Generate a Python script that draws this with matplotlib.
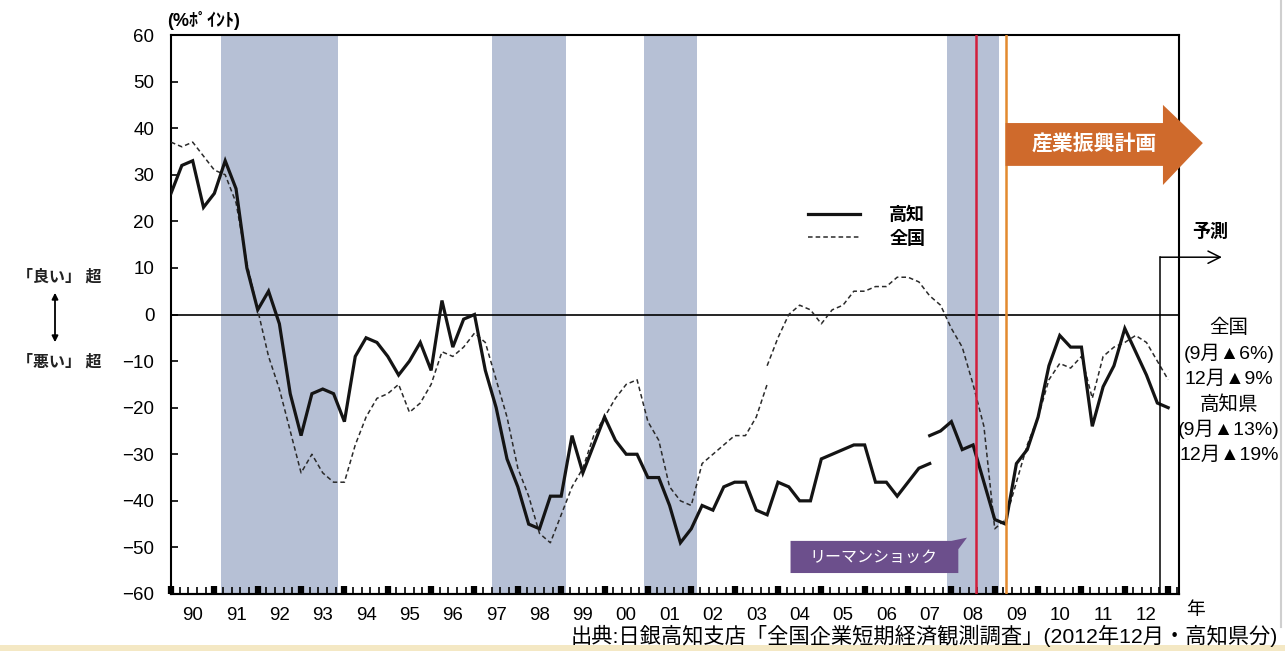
import numpy as np
import matplotlib
matplotlib.use("Agg")
import matplotlib.pyplot as plt
from matplotlib.patches import Polygon, Rectangle, FancyArrowPatch
from matplotlib.lines import Line2D

plt.rcParams['font.family'] = ['Liberation Sans', 'Noto Sans CJK JP']

# === DATA ===
# quarterly DI, 1990 Mar survey .. 2013 Mar (forecast)
START_YEAR = 1990
N_QUARTERS = 93

# Kochi, old basis (1990Q1 .. 2007Q3)
kochi_old = [26, 32, 33, 23, 26, 33, 27, 10,
             1, 5, -2, -17, -26, -17, -16, -17,
             -23, -9, -5, -6, -9, -13, -10, -6,
             -12, 3, -7, -1, 0, -12, -20, -31,
             -37, -45, -46, -39, -39, -26, -34, -28,
             -22, -27, -30, -30, -35, -35, -41, -49,
             -46, -41, -42, -37, -36, -36, -42, -43,
             -36, -37, -40, -40, -31, -30, -29, -28,
             -28, -36, -36, -39, -36, -33, -32]
# Kochi, new basis (2007Q3 .. 2013Q1 forecast)
kochi_new = [-26, -25, -23, -29, -28, -36, -44, -45, -32, -29, -22, -11,
             -4.5, -7, -7, -24, -15.5, -11, -3, -8, -13, -19, -20]

# Nationwide, old basis (1990Q1 .. 2003Q4)
zenkoku_old = [37, 36, 37, 34, 31, 30, 24, 11,
               1, -9, -16, -25, -34, -30, -34, -36,
               -36, -28, -22, -18, -17, -15, -21, -19,
               -15, -8, -9, -7, -4, -6, -14, -22,
               -33, -39, -47, -49, -43, -37, -33, -26,
               -22, -18, -15, -14, -23, -27, -37, -40,
               -41, -32, -30, -28, -26, -26, -22, -15]
# Nationwide, new basis (2003Q4 .. 2013Q1 forecast)
zenkoku_new = [-11, -5, 0, 2, 1, -2, 1, 2, 5, 5, 6, 6, 8, 8, 7, 4, 2, -3, -7,
               -15, -24, -46, -44, -36, -28, -22, -14, -10.5, -11.5, -9, -18,
               -9, -7, -6, -4.5, -6, -10, -14]

year_labels = ['90', '91', '92', '93', '94', '95', '96', '97', '98', '99',
               '00', '01', '02', '03', '04', '05', '06', '07', '08', '09',
               '10', '11', '12']

# recession periods (shaded)
recessions = [(1991.15, 1993.85), (1997.4, 1999.1),
              (2000.9, 2002.13), (2007.9, 2009.1)]
LEHMAN_X = 2008.57
PLAN_X = 2009.25
FORECAST_X = 2012.82

right_notes = ['全国', '(9月▲6%)', '12月▲9%', '高知県', '(9月▲13%)', '12月▲19%']

# === FIGURE ===
W, H = 1285, 651
fig = plt.figure(figsize=(W / 100, H / 100), dpi=100)
ax = fig.add_axes([171 / W, 1 - 594 / H, (1179 - 171) / W, (594 - 35) / H])

q = START_YEAR + np.arange(N_QUARTERS) * 0.25
n_old_k = len(kochi_old)
n_old_z = len(zenkoku_old)

for a, b in recessions:
    ax.axvspan(a, b, color='#b6c0d5', lw=0, zorder=0)

ax.axhline(0, color='black', lw=1.2, zorder=2)

l1, = ax.plot(q[:n_old_k], kochi_old, color='#141414', lw=2.3,
              solid_joinstyle='miter', zorder=4)
ax.plot(q[n_old_k - 1:], kochi_new, color='#141414', lw=2.3,
        solid_joinstyle='miter', zorder=4)
l2, = ax.plot(q[:n_old_z], zenkoku_old, color='#2a2a2a', lw=1.1,
              ls=(0, (3, 2)), zorder=3)
ax.plot(q[n_old_z - 1:], zenkoku_new, color='#2a2a2a', lw=1.1,
        ls=(0, (3, 2)), zorder=3)

ax.axvline(LEHMAN_X, color='#d21f3c', lw=1.8, zorder=5)
ax.axvline(PLAN_X, color='#e38a2f', lw=1.8, zorder=5)

ax.set_xlim(START_YEAR, 2013.25)
ax.set_ylim(-60, 60)

for s in ax.spines.values():
    s.set_linewidth(1.5)

ax.set_yticks(range(-60, 61, 10))
ax.tick_params(axis='y', direction='in', length=5, width=1.2,
               labelsize=13.5, pad=12)

year_starts = START_YEAR + np.arange(len(year_labels) + 1)
ax.set_xticks(year_starts[:-1] + 0.5)
ax.set_xticklabels(year_labels)
ax.tick_params(axis='x', which='major', length=0, labelsize=13.5, pad=9)
minor = [x for x in np.arange(START_YEAR, 2013.2, 0.2)
         if abs(x - round(x)) > 0.05]
ax.set_xticks(minor, minor=True)
ax.tick_params(axis='x', which='minor', direction='in', length=5, width=1.2)

sec = ax.secondary_xaxis('bottom')
sec.set_xticks(year_starts)
sec.tick_params(direction='in', length=6, width=4.5, labelbottom=False)
sec.spines['bottom'].set_linewidth(1.5)

# legend
ax.legend([l1, l2], ['高知', '全国'], loc='upper left',
          bbox_to_anchor=(808 / W, 1 - 207 / H), bbox_transform=fig.transFigure,
          frameon=False, handlelength=2.9, handletextpad=1.6,
          labelspacing=0.35, borderpad=0, borderaxespad=0,
          prop={'size': 13, 'weight': 'bold'})

# orange arrow (industry plan)
arrow_pts = [(PLAN_X, 41.1), (2012.88, 41.1), (2012.88, 45.0), (2013.8, 36.8),
             (2012.88, 27.8), (2012.88, 31.9), (PLAN_X, 31.9)]
ax.add_patch(Polygon(arrow_pts, closed=True, color='#cf6a2c', lw=0,
                     clip_on=False, zorder=6))
ax.text(2011.3, 36.5, '産業振興計画', color='white', fontsize=15,
        weight='bold', ha='center', va='center', zorder=7)

# Lehman callout
box_pts = [(2004.29, -48.6), (2008.0, -48.6), (2008.36, -47.9),
           (2008.16, -50.4), (2008.16, -55.5), (2004.29, -55.5)]
ax.add_patch(Polygon(box_pts, closed=True, color='#6c4f8c', lw=0, zorder=6))
ax.text(2006.2, -52.1, 'リーマンショック', color='white', fontsize=11.5,
        ha='center', va='center', zorder=7)

# forecast marker
ax.plot([FORECAST_X, FORECAST_X], [-60, 12.3], color='black', lw=1.1,
        clip_on=False, zorder=5)
ax.annotate('', xy=(2014.24, 12.3), xytext=(FORECAST_X, 12.3),
            arrowprops=dict(arrowstyle='->', lw=1.1, color='black',
                            shrinkA=0, shrinkB=0, mutation_scale=22),
            annotation_clip=False)
fig.text(1210 / W, 1 - 232 / H, '予測', fontsize=13, weight='bold',
         ha='center', va='center')

for k, txt in enumerate(right_notes):
    fig.text(1229 / W, 1 - (328 + k * 25.4) / H, txt, fontsize=14,
             ha='center', va='center')

# left side labels
fig.text(59 / W, 1 - 277 / H, '「良い」 超', fontsize=11.5, ha='center',
         va='center', weight='bold', color='#222222')
fig.text(59 / W, 1 - 362 / H, '「悪い」 超', fontsize=11.5, ha='center',
         va='center', weight='bold', color='#222222')
fig.add_artist(FancyArrowPatch(
    (55 / W, 1 - 290 / H), (55 / W, 1 - 345 / H), transform=fig.transFigure,
    arrowstyle='<|-|>', mutation_scale=9, lw=1.3, color='black'))

fig.text(167 / W, 1 - 20 / H, '(%ﾎﾟｲﾝﾄ)', fontsize=13, ha='left', va='center',
         weight='bold')
fig.text(1195 / W, 1 - 610 / H, '年', fontsize=13.5, ha='center', va='center')
fig.text(1278 / W, 1 - 636 / H,
         '出典:日銀高知支店「全国企業短期経済観測調査」(2012年12月・高知県分)',
         fontsize=15.3, ha='right', va='center')

# page decoration
fig.patches.append(Rectangle((0, 0), 1, 6 / H, transform=fig.transFigure,
                             color='#f4e8c4', lw=0))
fig.add_artist(Line2D([1281 / W, 1281 / W], [24 / H, 1], transform=fig.transFigure,
                      color='#cfcfcf', lw=1.5))

fig.savefig('out.png', dpi=100)
